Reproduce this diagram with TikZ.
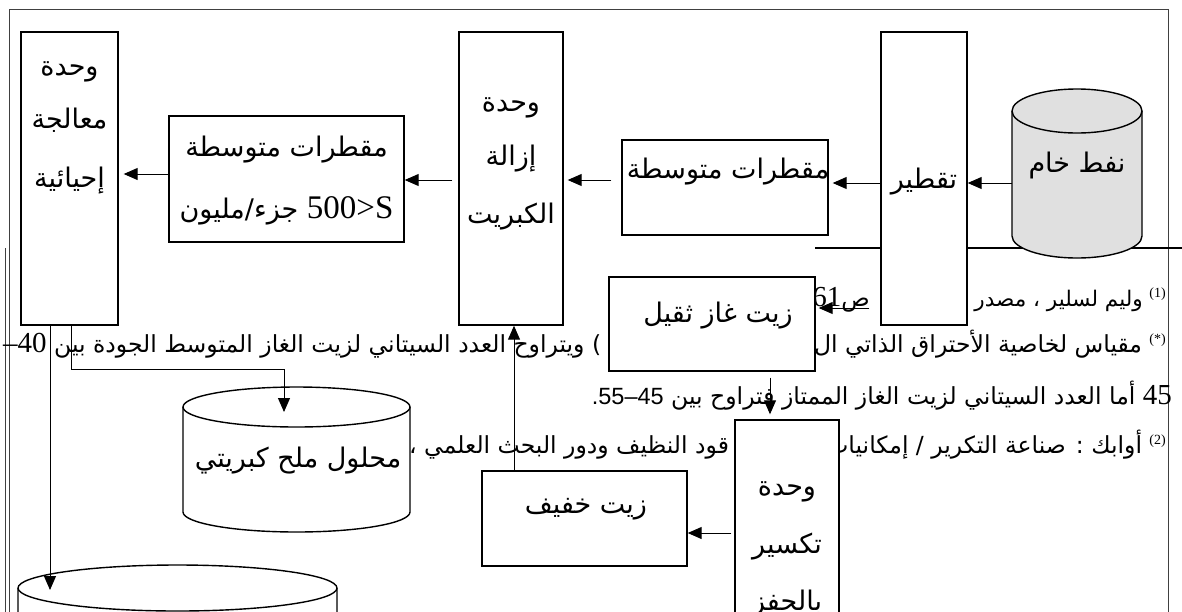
\documentclass[tikz,border=0pt]{standalone}
\usepackage{fontspec}
\usetikzlibrary{arrows.meta}
\TeXXeTstate=1
\newfontfamily\arf[Script=Arabic]{DejaVu Sans}
\newfontfamily\serf{Liberation Serif}
\newfontfamily\sanf{Liberation Sans}
\newcommand\supx[1]{\beginL{\serf\fontsize{14}{14}\selectfont\raisebox{9pt}{#1}}\endL}
\newcommand\drawcyl[6]{%
  \path[fill=#6] (#1,-#3) -- (#1,-#4) arc[start angle=180,end angle=360,x radius={(#2-#1)/2},y radius=#5] -- (#2,-#3) arc[start angle=0,end angle=180,x radius={(#2-#1)/2},y radius=#5] -- cycle;
  \draw[cyl] (#1,-#3) -- (#1,-#4) arc[start angle=180,end angle=360,x radius={(#2-#1)/2},y radius=#5] -- (#2,-#3);
  \draw[cyl] ({(#1+#2)/2},-#3) ellipse[x radius={(#2-#1)/2},y radius=#5];
}
\tikzset{
  box/.style={draw, line width=1.4pt, fill=white, inner sep=0pt},
  bt/.style={font=\arf\fontsize{27}{30}\selectfont, inner sep=0pt, anchor=base},
  ft/.style={font=\arf\fontsize{23.5}{26}\selectfont, inner sep=0pt},
  arr/.style={line width=1pt, -{Triangle[length=14pt,width=12pt]}},
  cyl/.style={line width=1.4pt}
}
\begin{document}
\begin{tikzpicture}[x=1pt,y=1pt]
\useasboundingbox (0,0) rectangle (1182,-611);
% page frame
\draw[line width=1pt, black!75] (9,-640) -- (9,-9) -- (1168,-9) -- (1168,-640);
\draw[line width=0.8pt, black!75] (5.5,-248) -- (5.5,-640);
% footnote separator
\draw[line width=2pt] (815,-248) -- (1182,-248);
% footnote lines
\node[ft, anchor=base east, font=\arf\fontsize{21.5}{26}\selectfont] (fnA) at (1166,-306) {\beginR\supx{(1)} وليم لسلير ، مصدر\endR};
\node[ft, anchor=base east] (fnB) at (870,-306) {\beginR ص\beginL{\serf\fontsize{29}{29}\selectfont 61}\endL\endR};
\node[ft, anchor=base east] (fnC) at (1166,-352) {\beginR\supx{(*)} مقياس لخاصية الأحتراق الذاتي ال\endR};
\node[ft, anchor=base west] (fnD) at (3,-352) {\beginR\beginL)\endL{} ويتراوح العدد السيتاني لزيت الغاز المتوسط الجودة بين \beginL{\serf\fontsize{29}{29}\selectfont –40}\endL\endR};
\node[ft, anchor=base east] (fnE) at (1172,-404) {\beginR\beginL{\serf\fontsize{29}{29}\selectfont 45}\endL{} أما العدد السيتاني لزيت الغاز الممتاز فتراوح بين \beginL{\sanf .55–45}\endL\endR};
\node[ft, anchor=base east] (fnF) at (1166,-453) {\beginR\supx{(2)} أوابك : صناعة التكرير / إمكانيات\endR};
\node[ft, anchor=base west] (fnG) at (409,-453) {\beginR قود النظيف ودور البحث العلمي ،\endR};
% boxes
\node[box, minimum width=97pt, minimum height=293pt] (bio) at (69.5,-178.5) {};
\node[box, minimum width=235pt, minimum height=126pt] (mid2) at (286.5,-179) {};
\node[box, minimum width=104pt, minimum height=293pt] (ds) at (511,-178.5) {};
\node[box, minimum width=206pt, minimum height=95pt] (mid1) at (725,-187.5) {};
\node[box, minimum width=86pt, minimum height=293pt] (tq) at (924,-178.5) {};
\node[box, minimum width=206pt, minimum height=94pt] (heavy) at (712,-324) {};
\node[box, minimum width=104pt, minimum height=240pt] (crack) at (787,-540) {};
\node[box, minimum width=205pt, minimum height=95pt] (light) at (584.5,-518.5) {};
% cylinders
\drawcyl{1012}{1142}{111}{236}{22}{black!12}
\drawcyl{183}{410}{407}{512}{20}{white}
\drawcyl{18}{337}{588}{700}{23}{white}
% box texts
\node[bt] (bio1) at (69.5,-75) {وحدة};
\node[bt] (bio2) at (69.5,-128) {معالجة};
\node[bt] (bio3) at (69.5,-187) {إحيائية};
\node[bt] (mid2a) at (286.5,-156) {\beginR مقطرات متوسطة\endR};
\node[bt] (mid2b) at (286.5,-218) {\beginR\beginL{\serf\fontsize{33}{33}\selectfont 500>S}\endL{} جزء/مليون\endR};
\node[bt] (ds1) at (511,-111) {وحدة};
\node[bt] (ds2) at (511,-165) {إزالة};
\node[bt] (ds3) at (511,-223) {الكبريت};
\node[bt] (mid1a) at (728,-178) {\beginR مقطرات متوسطة\endR};
\node[bt] (tq1) at (924,-188) {تقطير};
\node[bt] (crude) at (1077,-172) {\beginR نفط خام\endR};
\node[bt] (heavy1) at (718,-322) {\beginR زيت غاز ثقيل\endR};
\node[bt] (light1) at (586,-513) {\beginR زيت خفيف\endR};
\node[bt] (cr1) at (787,-495) {وحدة};
\node[bt] (cr2) at (787,-553) {تكسير};
\node[bt] (cr3) at (787,-610) {بالحفز};
\node[bt] (sulf) at (298,-467) {\beginR محلول ملح كبريتي\endR};
% connector end points inside cylinders
\coordinate (crudeL) at (1012,-183);
\coordinate (sulfTop) at (284,-412);
\coordinate (tankTop) at (50,-590);
% connectors
\draw[arr] (crudeL) -- (crudeL -| tq.east);
\draw[arr, shorten >=4pt] ([yshift=-4.5pt]tq.west) -- ([yshift=-4.5pt]tq.west -| mid1.east);
\draw[arr, shorten <=10pt, shorten >=4pt] ([yshift=7.5pt]mid1.west) -- ([yshift=7.5pt]mid1.west -| ds.east);
\draw[arr, shorten <=6pt] ([yshift=-1.5pt]ds.west) -- ([yshift=-1.5pt]ds.west -| mid2.east);
\draw[arr, shorten >=5pt] ([yshift=5pt]mid2.west) -- ([yshift=5pt]mid2.west -| bio.east);
\draw[arr, shorten <=11pt, shorten >=3pt] ([yshift=-129.5pt]tq.west) -- ([yshift=-129.5pt]tq.west -| heavy.east);
\draw[arr, shorten <=6pt, shorten >=5pt] ([xshift=58pt]heavy.south) -- ([xshift=58pt]heavy.south |- crack.north);
\draw[arr, shorten <=3pt] ([yshift=7pt]crack.west) -- ([yshift=7pt]crack.west -| light.east);
\draw[arr] ([xshift=-70.5pt]light.north) -- ([xshift=-70.5pt]light.north |- ds.south);
\draw[arr] ([xshift=1.5pt]bio.south) -- ++(0,-44) -| (sulfTop);
\draw[arr] ([xshift=-19.5pt]bio.south) -- (tankTop);
\end{tikzpicture}
\end{document}
